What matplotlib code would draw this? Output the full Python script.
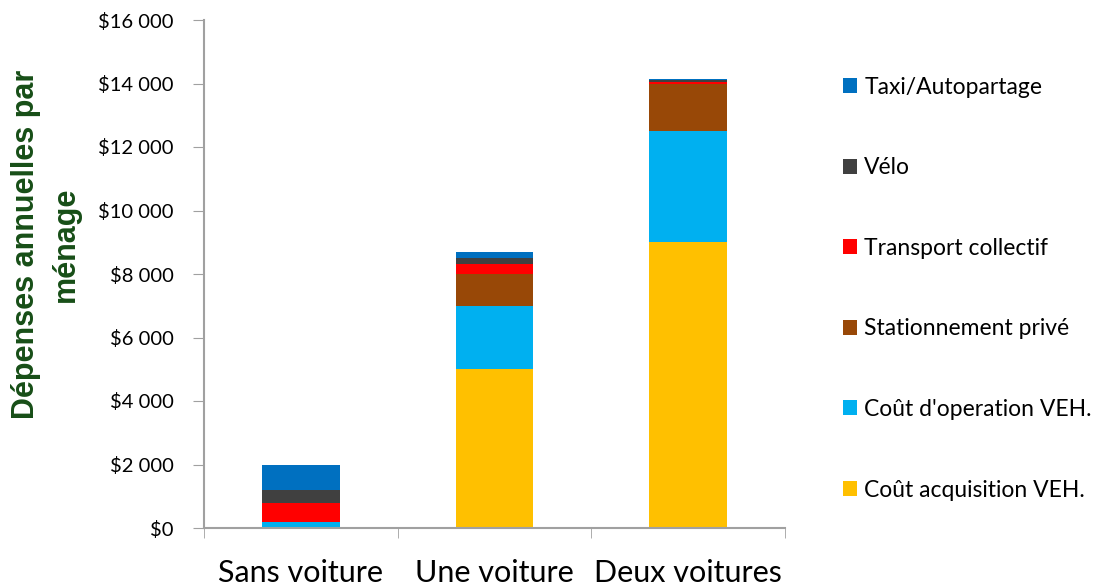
import matplotlib
matplotlib.use("Agg")
import matplotlib.pyplot as plt
import numpy as np
from matplotlib.ticker import FuncFormatter, FixedLocator

categories = ["Sans voiture", "Une voiture", "Deux voitures"]
series_names = ["Coût acquisition VEH.", "Coût d'operation VEH.", "Stationnement privé",
                "Transport collectif", "Vélo", "Taxi/Autopartage"]
acquisition = [0, 5000, 9000]
operation = [200, 2000, 3500]
stationnement = [0, 1000, 1500]
transport = [600, 300, 60]
velo = [400, 200, 40]
taxi = [800, 200, 50]
colors = ["#FFC000", "#00B0F0", "#984807", "#FF0000", "#404040", "#0070C0"]

series = [acquisition, operation, stationnement, transport, velo, taxi]

fig = plt.figure(figsize=(11.04, 5.88), dpi=100)
ax = fig.add_axes([204/1104, 1 - 528/588, (785-204)/1104, (528-20)/588])

x = np.arange(len(categories))
bottom = np.zeros(len(categories))
handles = []
for vals, name, c in zip(series, series_names, colors):
    b = ax.bar(x, vals, width=0.4, bottom=bottom, color=c, label=name, edgecolor="none")
    handles.append(b)
    bottom += np.array(vals)

ax.set_xlim(-0.5, 2.5)
ax.set_ylim(0, 16000)
ax.set_yticks(np.arange(0, 16001, 2000))
ax.yaxis.set_major_formatter(FuncFormatter(lambda v, p: "$" + f"{int(v):,}".replace(",", " ")))
ax.set_xticks(x)
ax.set_xticklabels(categories)
ax.xaxis.set_minor_locator(FixedLocator([-0.5, 0.5, 1.5, 2.5]))
ax.tick_params(axis="x", which="major", length=0, labelsize=22, pad=22)
ax.tick_params(axis="x", which="minor", length=7, color="#a0a0a0", direction="out")
ax.tick_params(axis="y", length=8, color="#a0a0a0", labelsize=14.5, pad=14)
for lab in ax.get_xticklabels() + ax.get_yticklabels():
    lab.set_family("Lato")
for s in ["top", "right"]:
    ax.spines[s].set_visible(False)
for s in ["left", "bottom"]:
    ax.spines[s].set_color("#a0a0a0")
    ax.spines[s].set_linewidth(1.5)

fig.text(46/1104, 1 - 244/588, "Dépenses annuelles par\nménage", rotation=90,
         ha="center", va="center", fontsize=22, fontweight="bold", color="#174e17",
         family="Liberation Sans", linespacing=1.42)

leg = fig.legend(handles[::-1], series_names[::-1], loc="upper left",
                 bbox_to_anchor=(822/1104, 1 - 56/588), frameon=False,
                 prop={"family": "Lato", "size": 16.5}, handlelength=0.64,
                 handleheight=0.64, handletextpad=0.3, labelspacing=2.6)

fig.savefig("out.png", dpi=100)
